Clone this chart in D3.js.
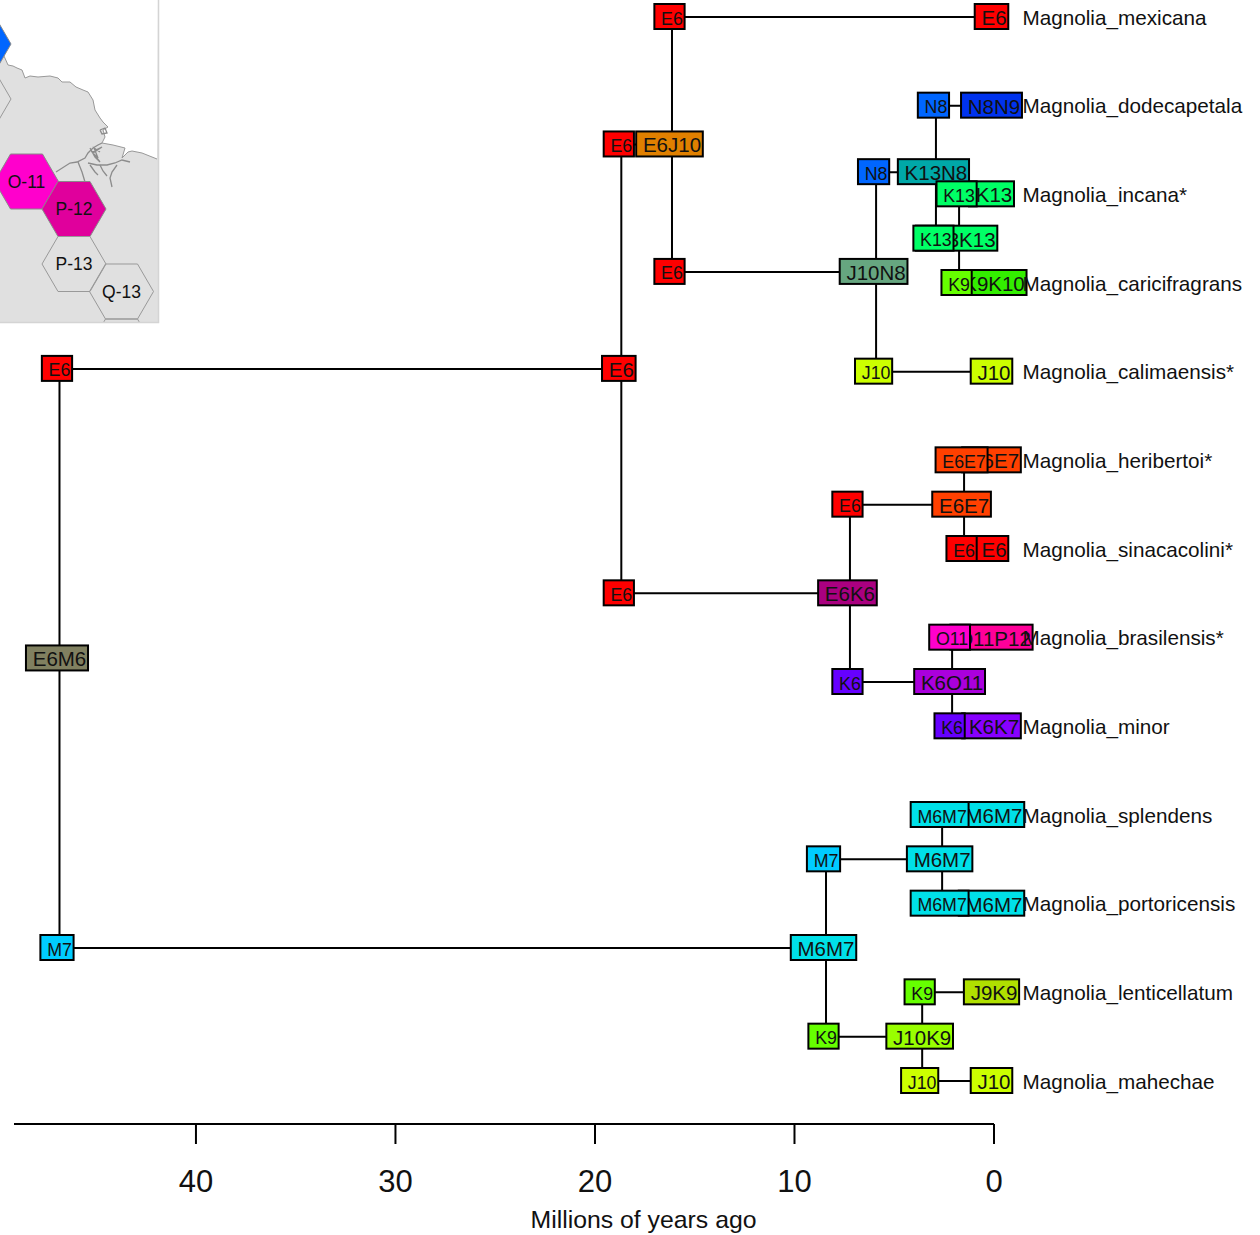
<!DOCTYPE html>
<html>
<head>
<meta charset="utf-8">
<script src="https://cdn.jsdelivr.net/npm/d3@7"></script>
<style>
  body { margin: 0; background: #fff; }
  svg { display: block; font-family: "Liberation Sans", Arial, sans-serif; }
  .edge { fill: none; stroke: #000; stroke-width: 2px; }
  .box rect { stroke: #000; stroke-width: 2px; }
  .box text { fill: #111; text-anchor: middle; }
</style>
</head>
<body>
<div id="chart"></div>
<script>

// Tips, top to bottom
const tipNames = [
  'Magnolia_mexicana', 'Magnolia_dodecapetala', 'Magnolia_incana*', 'Magnolia_caricifragrans',
  'Magnolia_calimaensis*', 'Magnolia_heribertoi*', 'Magnolia_sinacacolini*', 'Magnolia_brasilensis*',
  'Magnolia_minor', 'Magnolia_splendens', 'Magnolia_portoricensis', 'Magnolia_lenticellatum', 'Magnolia_mahechae'
];

// Tree table: one entry per node, same order in every array
const nodeIds = [
  'root', 'a', 'b', 'c', 'd', 'e', 'f', 'g', 'h', 'i', 'j', 'k',
  'Magnolia_mexicana', 'Magnolia_dodecapetala', 'Magnolia_incana*', 'Magnolia_caricifragrans',
  'Magnolia_calimaensis*', 'Magnolia_heribertoi*', 'Magnolia_sinacacolini*', 'Magnolia_brasilensis*',
  'Magnolia_minor', 'Magnolia_splendens', 'Magnolia_portoricensis', 'Magnolia_lenticellatum', 'Magnolia_mahechae'
];
const nodeParents = [
  null, 'root', 'a', 'b', 'c', 'd', 'a', 'f', 'f', 'root', 'i', 'i',
  'b', 'd', 'e', 'e', 'c', 'g', 'g', 'h', 'h', 'j', 'j', 'k', 'k'
];
const nodeAges = [
  46.84, 18.68, 16.14, 5.91, 2.91, 1.75, 7.22, 1.5, 2.1, 8.42, 2.6, 3.6,
  0, 0, 0, 0, 0, 0, 0, 0, 0, 0, 0, 0, 0
];
const nodeStates = [
  'E6M6', 'E6', 'E6J10', 'J10N8', 'K13N8', 'K13K13', 'E6K6', 'E6E7', 'K6O11', 'M6M7', 'M6M7', 'J10K9',
  'E6', 'N8N9', 'K13', 'K9K10', 'J10', 'E6E7', 'E6', 'O11P12', 'K6K7', 'M6M7', 'M6M7', 'J9K9', 'J10'
];
// state just after the split, drawn at the parent's x on the child's row
const cornerStates = [
  '', 'E6', 'E6', 'E6', 'N8', 'K13', 'E6', 'E6', 'K6', 'M7', 'M7', 'K9',
  'E6', 'N8', 'K13', 'K9', 'J10', 'E6E7', 'E6', 'O11', 'K6', 'M6M7', 'M6M7', 'K9', 'J10'
];

const stateNames = [
  'E6', 'E6E7', 'E6J10', 'E6K6', 'E6M6', 'J10', 'J10K9', 'J10N8', 'J9K9', 'K13', 'K13K13', 'K13N8',
  'K6', 'K6K7', 'K6O11', 'K9', 'K9K10', 'M6M7', 'M7', 'N8', 'N8N9', 'O11', 'O11P12'
];
const stateColors = [
  '#ff0000', '#ff4000', '#e08000', '#aa0080', '#808060', '#ccff00', '#99ff00', '#66a680', '#b0e000', '#00ff66', '#00ff66', '#00a8a8',
  '#6600ff', '#8800ff', '#aa00dd', '#66ff00', '#33ee00', '#00e0e8', '#00ccff', '#0066ff', '#0033ee', '#ff00cc', '#ff0099'
];

// Inset map: hexagon areas
const hexLabels = ['', '', 'O-11', 'P-12', 'P-13', 'Q-13', ''];
const hexCols = [0, 0, 1, 2, 2, 3, 3];
const hexRows = [0, 1, 2.5, 3, 4, 4.5, 5.5];
const hexColors = ['#0066ff', 'none', '#ff00cc', '#e0009c', 'none', 'none', 'none'];

const coastLine = [
  [0, 46], [4, 56], [8, 65], [13, 66], [17, 68], [22, 70], [25, 78], [30, 76], [38, 77], [50, 76], [58, 78], [62, 82], [70, 82],
  [76, 87], [83, 90], [88, 92], [93, 100], [95, 110], [100, 118], [103, 122], [108, 127], [103, 130], [105, 137], [102, 143],
  [113, 145], [125, 148], [122, 158], [128, 152], [132, 151], [142, 153], [157, 159]
];
const riverLines = [
  [[56, 172], [70, 163], [77, 162], [85, 158], [88, 153], [93, 148], [98, 145], [102, 143]],
  [[88, 163], [97, 165], [107, 165], [115, 163], [122, 160], [130, 162]],
  [[90, 165], [95, 172], [98, 175]],
  [[100, 165], [103, 171], [107, 176]],
  [[117, 165], [112, 172], [110, 178], [112, 187]],
  [[78, 162], [82, 172], [85, 182]],
  [[90, 148], [95, 157], [100, 162], [93, 153], [102, 147], [92, 152], [98, 158], [94, 148], [100, 152]],
  [[100, 130], [105, 128], [107, 133], [102, 134], [100, 130]]
];

const axisTicks = [40, 30, 20, 10, 0];
const axisTitle = 'Millions of years ago';

const width = 1260, height = 1235;

const svg = d3.select('#chart').append('svg')
  .attr('width', width)
  .attr('height', height);

const x = d3.scaleLinear().domain([49.12, 0]).range([14, 994]);
const y = d3.scaleLinear().domain([0, tipNames.length - 1]).range([17, 1081]);
const color = d3.scaleOrdinal().domain(stateNames).range(stateColors);

// Inset map

const map = svg.append('g').attr('class', 'map');

map.append('clipPath').attr('id', 'map-clip')
  .append('rect')
  .attr('width', 158)
  .attr('height', 322);

const mapInner = map.append('g').attr('clip-path', 'url(#map-clip)');

mapInner.append('rect')
  .attr('width', 158)
  .attr('height', 322)
  .attr('fill', '#e0e0e0');

const coast = d3.line();

mapInner.append('path')
  .attr('d', coast([[0, 0], [158, 0], ...coastLine.slice().reverse()]) + 'Z')
  .attr('fill', '#fff');

mapInner.append('path')
  .attr('d', coast(coastLine))
  .attr('fill', 'none')
  .attr('stroke', '#999')
  .attr('stroke-width', 1);

riverLines.forEach((river) => {
  mapInner.append('path')
    .attr('d', coast(river))
    .attr('fill', 'none')
    .attr('stroke', '#8c8c8c')
    .attr('stroke-width', 1.3);
});

const hexX = d3.scaleLinear().domain([0, 3]).range([-21, 121.5]);
const hexY = d3.scaleLinear().domain([0, 1]).range([44, 99]);
const hexPoints = [[-32, 0], [-16, -27.5], [16, -27.5], [32, 0], [16, 27.5], [-16, 27.5]];

hexLabels.forEach((label, i) => {

  let hex = mapInner.append('g')
    .attr('transform', `translate(${hexX(hexCols[i])},${hexY(hexRows[i])})`);

  hex.append('polygon')
    .attr('points', hexPoints.join(' '))
    .attr('fill', hexColors[i])
    .attr('stroke', hexColors[i] === 'none' ? '#999' : '#8a8a8a')
    .attr('stroke-width', 1);

  hex.append('text')
    .attr('text-anchor', 'middle')
    .attr('y', 6)
    .attr('font-size', 17.5)
    .attr('fill', '#111')
    .text(label);

});

map.append('path')
  .attr('d', 'M158.5,0V322.5H0')
  .attr('fill', 'none')
  .attr('stroke', '#d4d4d4')
  .attr('stroke-width', 1.5);

// Tree

const treeRows = nodeIds.map((id, i) => ({
  id: id,
  parent: nodeParents[i],
  age: nodeAges[i],
  state: nodeStates[i],
  corner: cornerStates[i]
}));

const root = d3.stratify()
  .id((d) => d.id)
  .parentId((d) => d.parent)(treeRows);

root.eachAfter((node) => {
  if (node.children) {
    node.py = d3.mean(node.children, (c) => c.py);
  } else {
    node.py = y(tipNames.indexOf(node.id));
  }
  node.px = x(node.data.age);
});

const edges = svg.append('g').attr('class', 'edges');

root.descendants().filter((node) => node.parent).forEach((node) => {
  edges.append('path')
    .attr('class', 'edge')
    .attr('d', `M${node.parent.px},${node.parent.py}V${node.py}H${node.px}`);
});

function addBox(layer, state, cx, cy, fontSize, baseline) {

  let g = layer.append('g').attr('class', 'box');

  let rect = g.append('rect');

  let text = g.append('text')
    .attr('x', cx)
    .attr('y', cy + baseline)
    .attr('font-size', fontSize)
    .text(state);

  const w = text.node().getComputedTextLength() + 8.5,
        h = 25;

  rect
    .attr('x', cx - 2.5 - w / 2)
    .attr('y', cy - 0.5 - h / 2)
    .attr('width', w)
    .attr('height', h)
    .attr('fill', color(state));

}

const nodeLayer = svg.append('g').attr('class', 'node-states'),
      cornerLayer = svg.append('g').attr('class', 'corner-states');

root.descendants().forEach((node) => {

  addBox(nodeLayer, node.data.state, node.px, node.py, 20.5, 8);

  if (node.parent) {
    addBox(cornerLayer, node.data.corner, node.parent.px, node.py, 17.8, 7.5);
  }

});

// Tip names

svg.append('g').selectAll('text')
  .data(tipNames)
  .join('text')
  .attr('x', 1022.5)
  .attr('y', (d, i) => y(i) + 7.5)
  .attr('font-size', 20.7)
  .attr('fill', '#111')
  .text((d) => d);

// Time axis

const axis = svg.append('g')
  .attr('transform', 'translate(0,1124)')
  .call(d3.axisBottom(x)
    .tickValues(axisTicks)
    .tickFormat(d3.format('d'))
    .tickSize(20)
    .tickSizeOuter(0)
    .tickPadding(26)
    .offset(0));

axis.selectAll('path, line')
  .attr('stroke', '#000')
  .attr('stroke-width', 2);

axis.selectAll('text')
  .attr('font-family', '"Liberation Sans", Arial, sans-serif')
  .attr('font-size', 31)
  .attr('fill', '#111');

svg.append('text')
  .attr('x', 643.5)
  .attr('y', 1228)
  .attr('text-anchor', 'middle')
  .attr('font-size', 24.8)
  .attr('fill', '#111')
  .text(axisTitle);

</script>
</body>
</html>
